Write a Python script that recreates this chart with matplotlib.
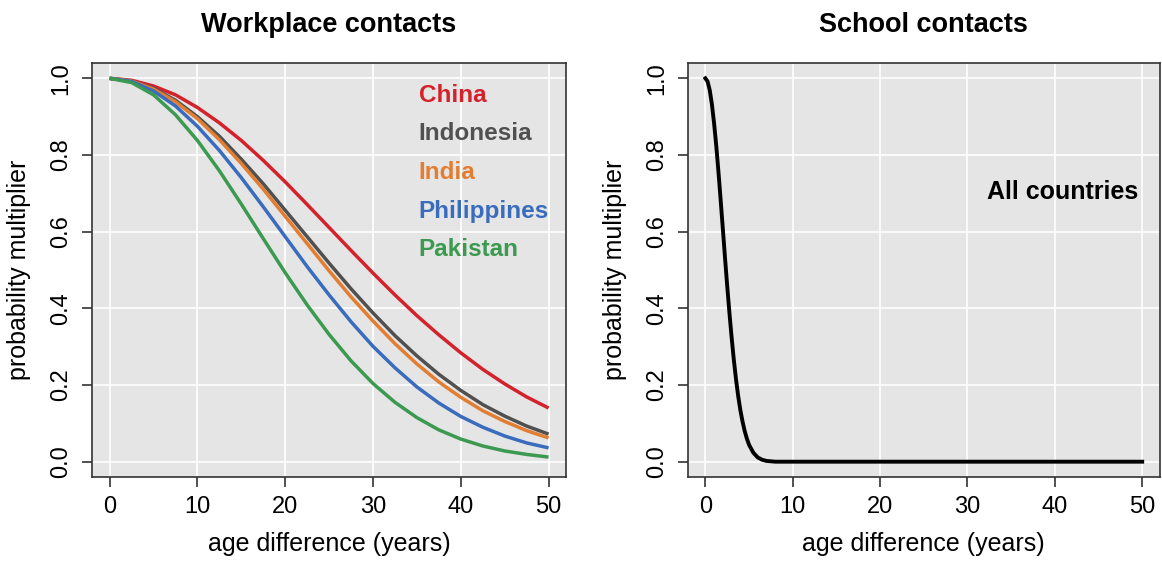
import matplotlib
matplotlib.use("Agg")
import matplotlib.pyplot as plt

plt.rcParams['font.family'] = ['Liberation Sans', 'DejaVu Sans']

# age difference (years), read every 2.5 years
age = [0, 2.5, 5, 7.5, 10, 12.5, 15, 17.5, 20, 22.5, 25, 27.5, 30,
       32.5, 35, 37.5, 40, 42.5, 45, 47.5, 50]

china = [1.000, 0.995, 0.980, 0.957, 0.924, 0.884, 0.838, 0.786, 0.730, 0.671, 0.611,
         0.551, 0.492, 0.435, 0.381, 0.331, 0.284, 0.241, 0.203, 0.169, 0.140]
indonesia = [1.000, 0.993, 0.974, 0.943, 0.900, 0.849, 0.789, 0.725, 0.656, 0.587, 0.518,
             0.451, 0.388, 0.329, 0.276, 0.228, 0.186, 0.149, 0.119, 0.093, 0.072]
india = [1.000, 0.993, 0.972, 0.939, 0.895, 0.840, 0.778, 0.711, 0.640, 0.569, 0.498,
         0.430, 0.367, 0.308, 0.255, 0.208, 0.168, 0.133, 0.105, 0.081, 0.062]
philippines = [1.000, 0.992, 0.967, 0.928, 0.875, 0.812, 0.741, 0.665, 0.587, 0.509, 0.435,
               0.365, 0.301, 0.245, 0.195, 0.153, 0.118, 0.090, 0.067, 0.049, 0.036]
pakistan = [1.000, 0.989, 0.957, 0.905, 0.838, 0.759, 0.672, 0.582, 0.493, 0.409, 0.332,
            0.263, 0.204, 0.155, 0.115, 0.083, 0.059, 0.041, 0.028, 0.019, 0.012]

school_age = [0, 0.25, 0.5, 0.75, 1, 1.25, 1.5, 1.75, 2, 2.25, 2.5, 2.75, 3, 3.25,
              3.5, 3.75, 4, 4.25, 4.5, 4.75, 5, 5.5, 6, 6.5, 7, 7.5, 8,
              10, 20, 30, 40, 50]
school = [1.000, 0.992, 0.969, 0.932, 0.882, 0.823, 0.755, 0.682, 0.607, 0.531,
          0.458, 0.389, 0.325, 0.267, 0.216, 0.172, 0.135, 0.105, 0.080, 0.060,
          0.044, 0.023, 0.011, 0.005, 0.002, 0.001, 0.000,
          0.0, 0.0, 0.0, 0.0, 0.0]

countries = ["China", "Indonesia", "India", "Philippines", "Pakistan"]
series = [china, indonesia, india, philippines, pakistan]
colors = ["#d3222b", "#505050", "#e27d32", "#3a6cbe", "#3b9a50"]

fig = plt.figure(figsize=(11.62, 5.62), dpi=100)
ax1 = fig.add_axes([0.0792, 0.1512, 0.408, 0.7367])
ax2 = fig.add_axes([0.592, 0.1512, 0.406, 0.7367])


def style(ax, title):
    ax.set_facecolor("#e5e5e5")
    ax.set_xlim(-2, 52)
    ax.set_ylim(-0.04, 1.04)
    ax.set_xticks([0, 10, 20, 30, 40, 50])
    ax.set_yticks([0.0, 0.2, 0.4, 0.6, 0.8, 1.0])
    ax.set_yticklabels(["0.0", "0.2", "0.4", "0.6", "0.8", "1.0"], rotation=90, va="center")
    ax.grid(True, color="white", linewidth=1.2)
    ax.set_axisbelow(True)
    for s in ax.spines.values():
        s.set_color("#333333")
        s.set_linewidth(1.2)
    ax.tick_params(direction="out", length=7, width=1.2, color="#333333",
                   labelsize=17, pad=7)
    ax.set_xlabel("age difference (years)", fontsize=18, labelpad=10)
    ax.set_ylabel("probability multiplier", fontsize=18)
    ax.yaxis.set_label_coords(-0.129, 0.5)
    ax.set_title(title, fontsize=19.5, fontweight="bold", pad=22)


style(ax1, "Workplace contacts")
for name, vals, c in zip(countries, series, colors):
    ax1.plot(age, vals, color=c, linewidth=2.5, solid_capstyle="butt")

label_y = [0.955, 0.856, 0.755, 0.653, 0.554]
for name, c, yy in zip(countries, colors, label_y):
    ax1.text(35.2, yy, name, color=c, fontsize=17.5, fontweight="bold", va="center", ha="left")

style(ax2, "School contacts")
ax2.plot(school_age, school, color="black", linewidth=2.8)
ax2.text(32.2, 0.703, "All countries", fontsize=18, fontweight="bold", va="center", ha="left")

fig.savefig("out.png", dpi=100)
